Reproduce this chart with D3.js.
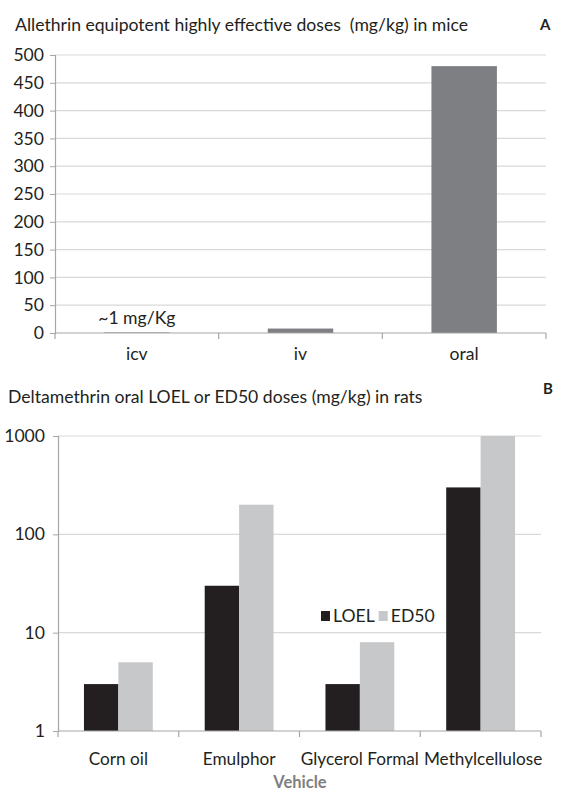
<!DOCTYPE html>
<html>
<head>
<meta charset="utf-8">
<script src="https://cdn.jsdelivr.net/npm/d3@7"></script>
<style>
  html, body { margin: 0; padding: 0; background: #fff; }
  svg text { font-family: Lato, "Open Sans", sans-serif; fill: #231f20; white-space: pre; }
</style>
</head>
<body>
<svg id="fig" width="569" height="791"></svg>
<script>
// Panel A: allethrin doses by route
const routes = ["icv", "iv", "oral"];
const routeDoses = [1, 8, 480];
const routeTicks = [0, 50, 100, 150, 200, 250, 300, 350, 400, 450, 500];

// Panel B: deltamethrin doses by vehicle
const vehicles = ["Corn oil", "Emulphor", "Glycerol Formal", "Methylcellulose"];
const seriesNames = ["LOEL", "ED50"];
const loelDoses = [3, 30, 3, 300];
const ed50Doses = [5, 200, 8, 1000];
const logTicks = [1, 10, 100, 1000];

const svg = d3.select("#fig");
const gridColor = "#d9d9d9";
const axisColor = "#a6a6a6";
const fs = 17.6;

// ---------- Panel A ----------
const gA = svg.append("g");
const xA = d3.scaleBand().domain(routes).range([55, 546]).paddingInner(0.6).paddingOuter(0.3);
const yA = d3.scaleLinear().domain([0, 500]).range([333, 55]);

gA.append("text").attr("x", 15).attr("y", 31).attr("font-size", fs)
  .text("Allethrin equipotent highly effective doses  (mg/kg) in mice");
gA.append("text").attr("x", 540).attr("y", 30).attr("font-size", 15).attr("font-weight", "bold")
  .text("A");

gA.selectAll("line.grid").data(routeTicks.slice(1)).join("line")
  .attr("x1", 55).attr("x2", 546)
  .attr("y1", d => yA(d)).attr("y2", d => yA(d))
  .attr("stroke", gridColor).attr("stroke-width", 1.2);

const yAxisA = gA.append("g").attr("transform", "translate(55,0)")
  .call(d3.axisLeft(yA).tickValues(routeTicks).tickSize(5).tickPadding(6));
yAxisA.select(".domain").attr("stroke", axisColor).attr("stroke-width", 1.2);
yAxisA.selectAll(".tick line").attr("stroke", axisColor);
yAxisA.selectAll(".tick text").attr("font-size", fs).attr("font-family", "Lato, sans-serif").attr("fill", "#231f20");

gA.selectAll("rect.bar").data(routes).join("rect")
  .attr("x", d => xA(d)).attr("width", xA.bandwidth())
  .attr("y", (d, i) => yA(routeDoses[i]))
  .attr("height", (d, i) => yA(0) - yA(routeDoses[i]))
  .attr("fill", "#7e7f83");

// x axis baseline with category boundary ticks
gA.append("line").attr("x1", 55).attr("x2", 546).attr("y1", yA(0)).attr("y2", yA(0))
  .attr("stroke", axisColor).attr("stroke-width", 1.2);
const boundsA = d3.range(routes.length + 1).map(i => 55 + i * xA.step());
gA.selectAll("line.xt").data(boundsA).join("line")
  .attr("x1", d => d).attr("x2", d => d).attr("y1", yA(0)).attr("y2", yA(0) + 6)
  .attr("stroke", axisColor).attr("stroke-width", 1.2);
gA.selectAll("text.cat").data(routes).join("text")
  .attr("x", d => xA(d) + xA.bandwidth() / 2).attr("y", 360)
  .attr("text-anchor", "middle").attr("font-size", fs).text(d => d);

gA.append("text").attr("x", xA("icv") + xA.bandwidth() / 2).attr("y", 324)
  .attr("text-anchor", "middle").attr("font-size", fs).text("~1 mg/Kg");

// ---------- Panel B ----------
const gB = svg.append("g");
const xB = d3.scaleBand().domain(vehicles).range([58, 541]).paddingInner(0.43).paddingOuter(0.215);
const xSeries = d3.scaleBand().domain(seriesNames).range([0, xB.bandwidth()]).padding(0);
const yB = d3.scaleLog().domain([1, 1000]).range([731, 436]);
const seriesColor = d3.scaleOrdinal().domain(seriesNames).range(["#231f20", "#c7c8ca"]);
const seriesValues = { LOEL: loelDoses, ED50: ed50Doses };

gB.append("text").attr("x", 8).attr("y", 403).attr("font-size", fs)
  .text("Deltamethrin oral LOEL or ED50 doses (mg/kg) in rats");
gB.append("text").attr("x", 543).attr("y", 394).attr("font-size", 15).attr("font-weight", "bold")
  .text("B");

gB.selectAll("line.grid").data(logTicks.slice(1)).join("line")
  .attr("x1", 58).attr("x2", 541)
  .attr("y1", d => yB(d)).attr("y2", d => yB(d))
  .attr("stroke", gridColor).attr("stroke-width", 1.2);

const yAxisB = gB.append("g").attr("transform", "translate(58,0)")
  .call(d3.axisLeft(yB).tickValues(logTicks).tickFormat(d3.format("d")).tickSize(5).tickPadding(8));
yAxisB.select(".domain").attr("stroke", axisColor).attr("stroke-width", 1.2);
yAxisB.selectAll(".tick line").attr("stroke", axisColor);
yAxisB.selectAll(".tick text").attr("font-size", fs).attr("font-family", "Lato, sans-serif").attr("fill", "#231f20");

const groups = gB.selectAll("g.grp").data(vehicles).join("g")
  .attr("transform", d => `translate(${xB(d)},0)`);
groups.selectAll("rect").data((d, i) => seriesNames.map(s => ({ s, v: seriesValues[s][i] })))
  .join("rect")
  .attr("x", d => xSeries(d.s)).attr("width", xSeries.bandwidth())
  .attr("y", d => yB(d.v)).attr("height", d => yB(1) - yB(d.v))
  .attr("fill", d => seriesColor(d.s));

gB.append("line").attr("x1", 58).attr("x2", 541).attr("y1", yB(1)).attr("y2", yB(1))
  .attr("stroke", axisColor).attr("stroke-width", 1.2);
const boundsB = d3.range(vehicles.length + 1).map(i => 58 + i * xB.step());
gB.selectAll("line.xt").data(boundsB).join("line")
  .attr("x1", d => d).attr("x2", d => d).attr("y1", yB(1)).attr("y2", yB(1) + 6)
  .attr("stroke", axisColor).attr("stroke-width", 1.2);
const catB = gB.selectAll("text.cat").data(vehicles).join("text")
  .attr("x", d => xB(d) + xB.bandwidth() / 2).attr("y", 765)
  .attr("text-anchor", "middle").attr("font-size", 17.2).text(d => d);

// nudge category labels apart so neighbours keep a small gap
let prevRight = -Infinity;
catB.each(function () {
  const box = this.getBBox();
  const shift = Math.max(0, prevRight + 5 - box.x);
  if (shift > 0) d3.select(this).attr("x", +d3.select(this).attr("x") + shift);
  prevRight = box.x + box.width + shift;
});

gB.append("text").attr("x", 300).attr("y", 788).attr("text-anchor", "middle")
  .attr("font-size", 16.5).attr("font-weight", "bold").style("fill", "#7f7f7f").text("Vehicle");

// legend
const legend = gB.append("g").attr("transform", "translate(321,616)");
let lx = 0;
seriesNames.forEach(s => {
  legend.append("rect").attr("x", lx).attr("y", -5).attr("width", 9).attr("height", 10)
    .attr("fill", seriesColor(s));
  const t = legend.append("text").attr("x", lx + 12).attr("y", 6).attr("font-size", fs).text(s);
  lx += 12 + t.node().getComputedTextLength() + 4;
});
</script>
</body>
</html>
